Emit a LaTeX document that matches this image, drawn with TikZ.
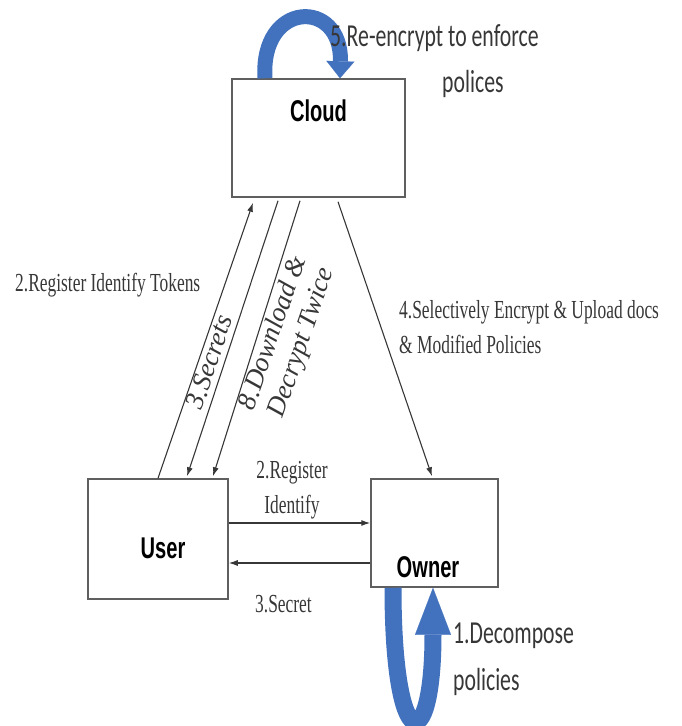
\documentclass[tikz,border=0pt]{standalone}
\usepackage{fontspec}
\usetikzlibrary{arrows.meta,positioning}
\newfontfamily\condserif[FakeStretch=0.67]{Liberation Serif}
\newfontfamily\plainserif{Liberation Serif}
\newfontfamily\condsans[FakeStretch=0.68]{Carlito}
\newfontfamily\condbold[FakeStretch=0.67]{Liberation Sans}
\definecolor{loopblue}{RGB}{66,113,190}
\definecolor{inkgray}{RGB}{55,55,55}
\definecolor{framegray}{RGB}{95,95,95}
\tikzset{
  party/.style={draw=framegray, line width=1.5pt, inner sep=0pt},
  partyname/.style={font=\condbold\bfseries\fontsize{30}{30}\selectfont, text=black},
  link/.style={draw=inkgray, line width=1.1pt},
  msg/.style={font=\condserif\fontsize{26}{35}\selectfont, text=inkgray, inner sep=0pt},
  slantmsg/.style={font=\plainserif\itshape\fontsize{27}{30}\selectfont, text=inkgray, inner sep=0pt},
  note/.style={font=\condsans\fontsize{32}{47}\selectfont, text=inkgray, inner sep=0pt},
  loopline/.style={draw=loopblue, line cap=butt}
}
\begin{document}
\begin{tikzpicture}[x=1pt, y=-1pt, >={Latex[length=9pt,width=6pt]}]
\useasboundingbox (0,0) rectangle (681,726);
% the three parties
\node[party, minimum width=173pt, minimum height=118pt] (cloud) at (318.5,138) {};
\node[party, minimum width=140pt, minimum height=120pt] (user) at (158,539) {};
\node[party, minimum width=127pt, minimum height=108pt] (owner) at (434.5,533) {};
\node[partyname] (cloudname) at ([yshift=-33pt]cloud.north) {Cloud};
\node[partyname] (username) at ([xshift=5pt, yshift=-9pt]user.center) {User};
\node[partyname] (ownername) at ([xshift=-6.5pt, yshift=-34pt]owner.center) {Owner};
% user <-> cloud
\draw[link, ->] (user.north) -- ([xshift=-65.5pt, yshift=-5pt]cloud.south);
\draw[link, ->] ([xshift=-40.5pt, yshift=-3pt]cloud.south) -- ([xshift=29pt, yshift=2pt]user.north);
\draw[link, ->] ([xshift=-18.5pt, yshift=-3pt]cloud.south) -- ([xshift=55pt, yshift=2pt]user.north);
% cloud -> owner
\draw[link, ->] ([xshift=19.5pt, yshift=-4pt]cloud.south) -- ([xshift=-2.5pt, yshift=2pt]owner.north);
% user <-> owner
\draw[link, ->] ([yshift=16pt]user.east) -- ([yshift=16pt]user.east -| owner.west);
\draw[link, ->] ([yshift=-24pt]user.east -| owner.west) -- ([yshift=-24pt]user.east);
% self loops
\draw[loopline, line width=15pt, -{Triangle[length=17pt, width=28pt, line width=0.1pt]}]
  ([xshift=-53.5pt]cloud.north) .. controls +(-5,-78) and +(2,-80) .. ([xshift=21.5pt]cloud.north);
\draw[loopline, line width=17pt, -{Triangle[length=47pt, width=36pt, line width=0.1pt]}]
  ([xshift=-41.5pt]owner.south) .. controls +(0,170) and +(0,170) .. ([xshift=-1.5pt]owner.south);
% labels
\node[msg, anchor=base west] (tokens) at (15,291) {2.Register Identify Tokens};
\node[slantmsg, rotate=71.6] (secrets) at (209,362) {3.Secrets};
\node[slantmsg, rotate=71, align=center] (download) at (288,338) {8.Download \&\\Decrypt Twice};
\node[msg, anchor=base west, align=left] (upload) at (399,353) {4.Selectively Encrypt \& Upload docs\\\& Modified Policies};
\node[msg, anchor=base, align=center] (register) at (292,513) {2.Register\\Identify};
\node[msg, anchor=base west] (secret) at (255,612) {3.Secret};
\node[note, anchor=base west] (reenc) at (330,46) {5.Re-encrypt to enforce};
\node[note, anchor=base west] (reencb) at (442,92) {polices};
\node[note, anchor=base west, align=left] (decomp) at (453,690) {1.Decompose\\policies};
\end{tikzpicture}
\end{document}
